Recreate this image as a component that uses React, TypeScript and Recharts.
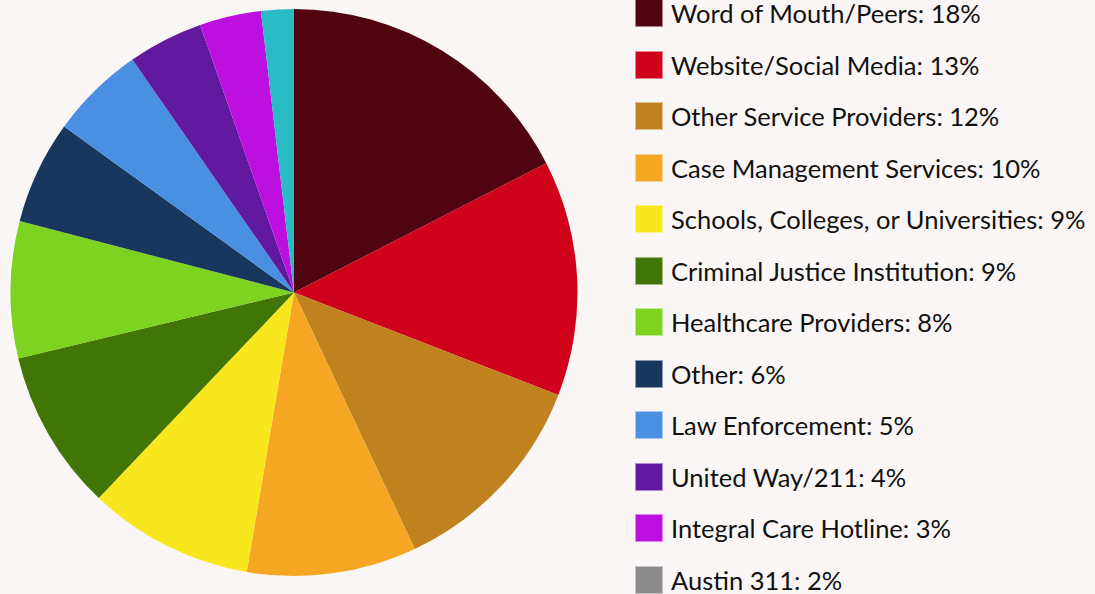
import { PieChart, Pie, Cell, Legend } from 'recharts';

const sources = [
  'Word of Mouth/Peers',
  'Website/Social Media',
  'Other Service Providers',
  'Case Management Services',
  'Schools, Colleges, or Universities',
  'Criminal Justice Institution',
  'Healthcare Providers',
  'Other',
  'Law Enforcement',
  'United Way/211',
  'Integral Care Hotline',
  'Austin 311',
];
const shares = [17.46, 13.42, 12.11, 9.67, 9.42, 9.17, 7.8, 5.89, 5.4, 4.28, 3.51, 1.86];
const shareLabels = ['18%', '13%', '12%', '10%', '9%', '9%', '8%', '6%', '5%', '4%', '3%', '2%'];
const sliceColors = [
  '#4f0410', '#d0021b', '#bf821f', '#f5a623', '#f8e71c', '#417505',
  '#7ed321', '#17375e', '#4a90e2', '#61199f', '#bd10e0', '#2abcc4',
];
const legendColors = [...sliceColors.slice(0, 11), '#8b8b8b'];

const data = sources.map((name, i) => ({ name, value: shares[i] }));

const BG = '#faf6f5';

function LegendList() {
  return (
    <div style={{ fontFamily: 'Lato, sans-serif', fontSize: 25.5, color: '#111' }}>
      {sources.map((s, i) => (
        <div
          key={s}
          style={{ display: 'flex', alignItems: 'center', height: 51.5, lineHeight: '28px' }}
        >
          <span
            style={{
              width: 26,
              height: 26,
              background: legendColors[i],
              border: '1px solid rgba(255,255,255,0.5)',
              marginRight: 8,
              flexShrink: 0,
            }}
          />
          <span style={{ whiteSpace: 'nowrap' }}>{`${s}: ${shareLabels[i]}`}</span>
        </div>
      ))}
    </div>
  );
}

export default function App() {
  return (
    <div style={{ position: 'fixed', left: 0, top: 0, width: 1095, height: 594, background: BG, overflow: 'hidden' }}>
      <PieChart width={1095} height={594} margin={{ top: 0, right: 0, bottom: 0, left: 0 }}>
        <Pie
          data={data}
          dataKey="value"
          nameKey="name"
          cx={294}
          cy={292.5}
          outerRadius={283.5}
          startAngle={90}
          endAngle={-270}
          stroke="none"
          isAnimationActive={false}
        >
          {data.map((d, i) => (
            <Cell key={d.name} fill={sliceColors[i]} />
          ))}
        </Pie>
        <Legend
          content={() => <LegendList />}
          wrapperStyle={{ position: 'absolute', left: 635, top: -12.5, width: 460 }}
        />
      </PieChart>
    </div>
  );
}
